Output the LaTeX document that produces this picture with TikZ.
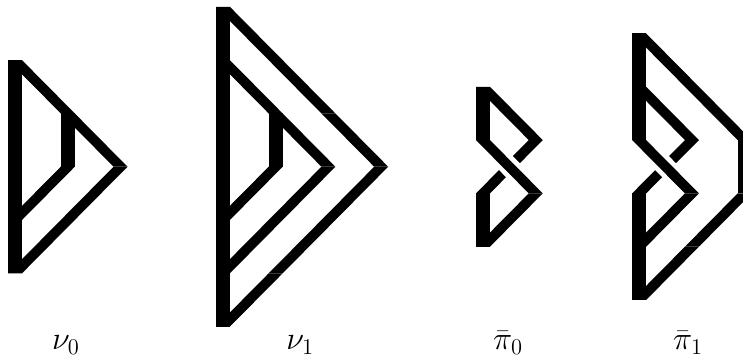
\documentclass[tikz,border=0pt]{standalone}
\usepackage{amsmath}
\usepackage{tikz}
\tikzset{
  tile/.style={fill=black},
  halo/.style={fill=white},
  lab/.style={anchor=base,font=\LARGE,inner sep=0pt}
}
% tiles of one strand, c = column, y = upper level
\newcommand{\tilebar}[3]{\fill[tile] (#1,#2) rectangle (#1+0.265,#3);}
\newcommand{\tiledown}[2]{\fill[tile] (#1,#2) -- (#1+0.265,#2) -- (#1+1.265,#2-1) -- (#1+1,#2-1) -- cycle;}
\newcommand{\tileup}[2]{\fill[tile] (#1+1,#2) -- (#1+1.265,#2) -- (#1+0.265,#2-1) -- (#1,#2-1) -- cycle;}
% crossing: strand on top, with a white gap round it
\newcommand{\tileover}[2]{
  \fill[halo] (#1+0.155,#2-0.28) -- (#1+0.675,#2-0.28) -- (#1+1.115,#2-0.72) -- (#1+0.595,#2-0.72) -- cycle;
  \tiledown{#1}{#2}}
\begin{document}
\begin{tikzpicture}[x=0.99cm,y=1cm]
  \useasboundingbox (0,-3.589) rectangle (14.08,3.128);

  % nu_0
  \begin{scope}[xshift=0.15cm]
    \tilebar{0}{2}{1} \tilebar{0}{1}{-2} \tilebar{1}{1}{0}
    \foreach \c/\y in {0/2,1/1}{\tiledown{\c}{\y}}
    \foreach \c/\y in {1/0,0/-1,0/0}{\tileup{\c}{\y}}
  \end{scope}
  \node[lab] (nu0) at (1.25,-3.43) {$\nu_0$};

  % nu_1
  \begin{scope}[xshift=4.05cm]
    \tilebar{0}{3}{1} \tilebar{0}{1}{-2} \tilebar{0}{-2}{-3} \tilebar{1}{1}{0}
    \foreach \c/\y in {0/3,1/2,2/1,0/2,1/1}{\tiledown{\c}{\y}}
    \foreach \c/\y in {2/0,1/-1,0/-2,1/0,0/-1,0/0}{\tileup{\c}{\y}}
  \end{scope}
  \node[lab] (nu1) at (5.69,-3.43) {$\nu_1$};

  % pi_0
  \begin{scope}[xshift=8.93cm]
    \tilebar{0}{1.5}{0.5} \tilebar{0}{-0.5}{-1.5}
    \tiledown{0}{1.5}
    \tileup{0}{0.5}
    \tileover{0}{0.5}
    \tileup{0}{-0.5}
  \end{scope}
  \node[lab] (pi0) at (9.63,-3.43) {$\bar{\pi}_0$};

  % pi_1
  \begin{scope}[xshift=11.86cm]
    \tilebar{0}{2.5}{0.5} \tilebar{0}{-0.5}{-2.5} \tilebar{2}{0.5}{-0.5}
    \foreach \c/\y in {0/2.5,1/1.5,0/1.5}{\tiledown{\c}{\y}}
    \foreach \c/\y in {1/-0.5,0/-1.5,0/-0.5}{\tileup{\c}{\y}}
    \tileup{0}{0.5}
    \tileover{0}{0.5}
  \end{scope}
  \node[lab] (pi1) at (13.04,-3.43) {$\bar{\pi}_1$};
\end{tikzpicture}
\end{document}
